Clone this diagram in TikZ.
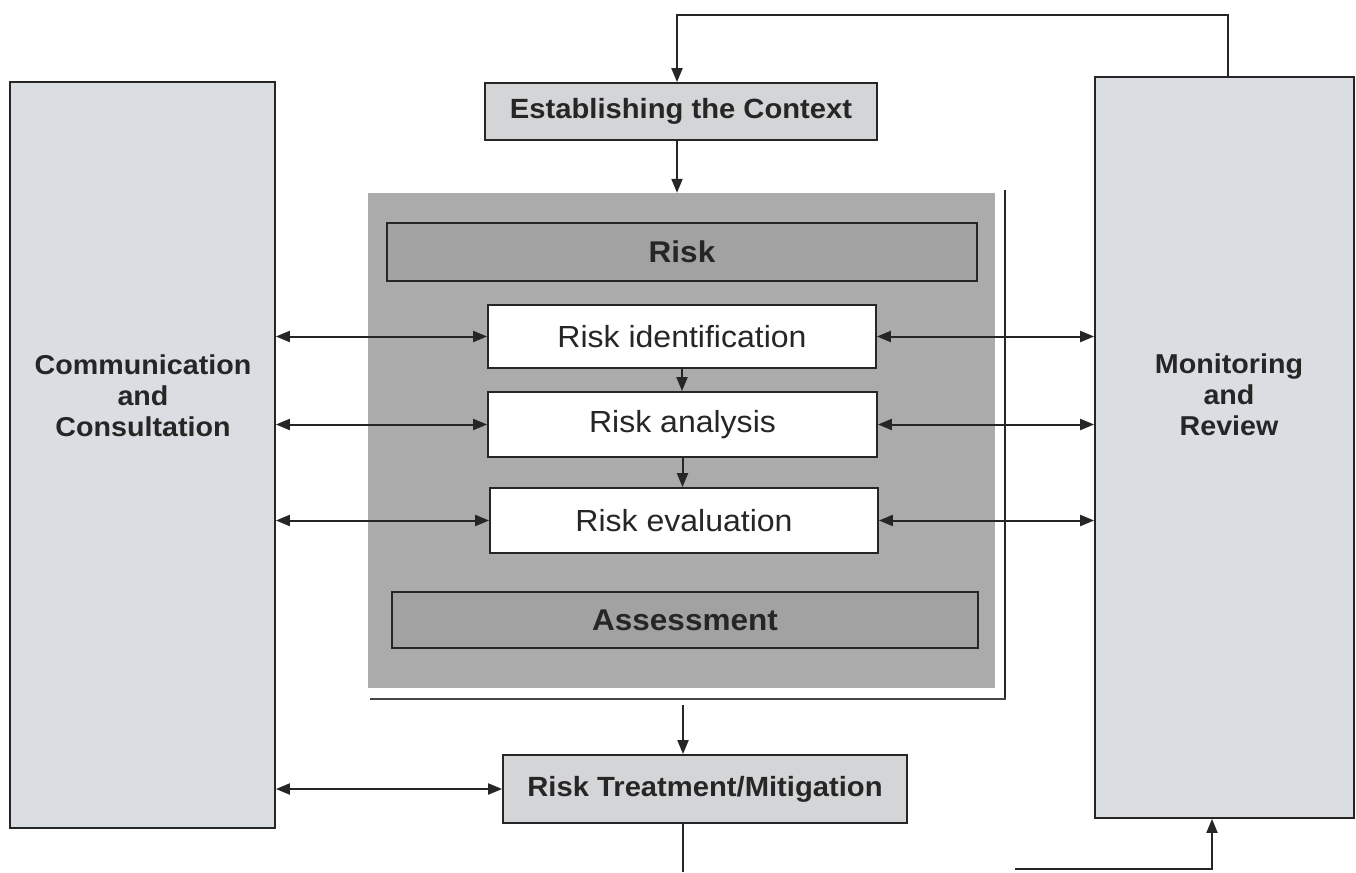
\documentclass[tikz,border=0pt]{standalone}
\usepackage{fontspec}
\setmainfont{Liberation Sans}[FakeStretch=1.05]
\usetikzlibrary{arrows.meta}
\definecolor{sidefill}{HTML}{DADDE1}
\definecolor{headfill}{HTML}{D3D5D7}
\definecolor{bigfill}{HTML}{ABABAB}
\definecolor{barfill}{HTML}{A2A2A2}
\definecolor{ink}{HTML}{262626}
\tikzset{
  box/.style={draw=ink, line width=1.8pt, inner sep=0pt, text=ink, align=center},
  sidebox/.style={box, fill=sidefill},
  headbox/.style={box, fill=headfill, font=\bfseries\fontsize{27.8}{30}\selectfont},
  barbox/.style={box, fill=barfill, font=\bfseries\fontsize{30}{32}\selectfont},
  stepbox/.style={box, fill=white, font=\fontsize{30.5}{32}\selectfont},
  sidetext/.style={text=ink, align=center, font=\bfseries\fontsize{27.3}{31}\selectfont},
  conn/.style={draw=ink, line width=2pt},
  arr/.style={conn, -{Triangle[length=14pt,width=11pt]}},
  biarr/.style={conn, {Triangle[length=14pt,width=11pt]}-{Triangle[length=14pt,width=11pt]}}
}
\begin{document}
\begin{tikzpicture}[x=1pt, y=-1pt]
\useasboundingbox[fill=white] (0,0) rectangle (1356,872);
% side boxes
\node[sidebox, minimum width=265pt, minimum height=746pt] (comm) at (142.5,455) {};
\node[sidetext] (commtext) at (143,396) {Communication\\and\\Consultation};
\node[sidebox, minimum width=259pt, minimum height=741pt] (mon) at (1224.5,447.5) {};
\node[sidetext] (montext) at (1229,395) {Monitoring\\and\\Review};
% head boxes
\node[headbox, minimum width=392pt, minimum height=57pt] (est) at (681,111.5) {Establishing the Context};
\node[headbox, minimum width=404pt, minimum height=68pt] (treat) at (705,789) {Risk Treatment/Mitigation};
% big assessment box
\node[fill=bigfill, inner sep=0pt, minimum width=627pt, minimum height=495pt] (bigbox) at (681.5,440.5) {};
\draw[draw=ink, line width=1.5pt] ([xshift=10pt,yshift=3pt]bigbox.north east) -- ([xshift=10pt,yshift=-11pt]bigbox.south east);
\draw[draw=ink!85, line width=2.5pt] ([xshift=10.7pt,yshift=-11pt]bigbox.south east) -- ([xshift=2pt,yshift=-11pt]bigbox.south west);
\node[barbox, minimum width=590pt, minimum height=58pt] (riskbar) at (682,252) {Risk};
\node[barbox, minimum width=586pt, minimum height=56pt] (assess) at (685,620) {Assessment};
\node[stepbox, minimum width=388pt, minimum height=63pt] (ident) at (682,336.5) {Risk identification};
\node[stepbox, minimum width=389pt, minimum height=65pt] (anal) at (682.5,424.5) {Risk analysis};
\node[stepbox, minimum width=388pt, minimum height=65pt] (eval) at (684,520.5) {Risk evaluation};
% connectors
\coordinate (topR) at (1228,15);
\coordinate (topL) at (677,15);
\draw[arr] (mon.north -| topR) -- (topR) -- (topL) -- (topL |- est.north);
\draw[arr] (est.south -| topL) -- (topL |- bigbox.north);
\draw[arr] (ident.south) -- (ident.south |- anal.north);
\draw[arr] (anal.south) -- (anal.south |- eval.north);
\coordinate (midT) at (683,705);
\draw[arr] (midT) -- (midT |- treat.north);
\coordinate (botL) at (683,872);
\draw[conn] (treat.south -| botL) -- (botL);
\coordinate (botR) at (1015,869);
\coordinate (botC) at (1212,869);
\draw[arr] (botR) -- (botC) -- (botC |- mon.south);
% two-way links
\draw[biarr] (comm.east |- ident.west) -- (ident.west);
\draw[biarr] (comm.east |- anal.west) -- (anal.west);
\draw[biarr] (comm.east |- eval.west) -- (eval.west);
\draw[biarr] (comm.east |- treat.west) -- (treat.west);
\draw[biarr] (ident.east) -- (ident.east -| mon.west);
\draw[biarr] (anal.east) -- (anal.east -| mon.west);
\draw[biarr] (eval.east) -- (eval.east -| mon.west);
\end{tikzpicture}
\end{document}
